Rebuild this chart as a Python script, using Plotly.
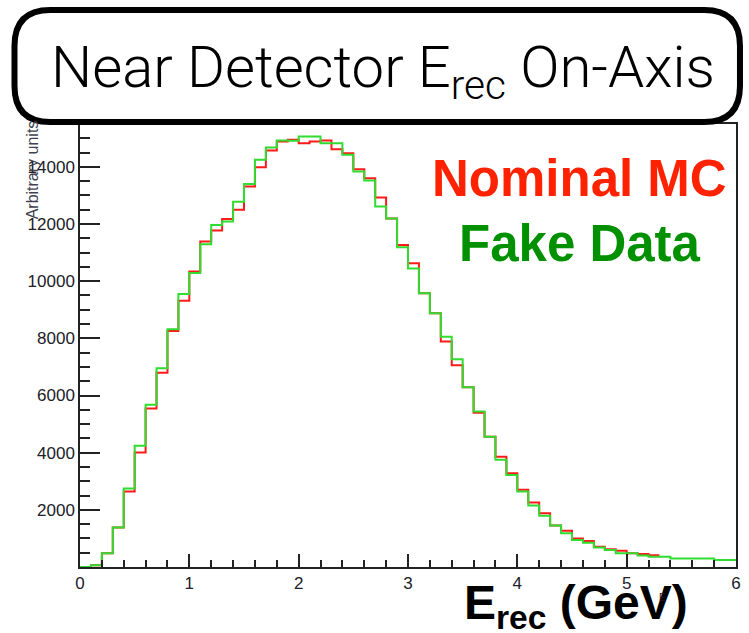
import plotly.graph_objects as go

# Reconstructed-energy histogram, 0.1 GeV bins from 0 to 6 GeV
bin_width = 0.1
n_bins = 60
bin_edges = [round(i * bin_width, 1) for i in range(n_bins + 1)]

# Fake data (green), one value per bin
fake_data = [
    0, 60, 480, 1380, 2750, 4240, 5680, 6950, 8320, 9550,
    10290, 11290, 11970, 12090, 12780, 13400, 14250, 14680, 14920, 14910,
    15060, 15060, 14830, 14830, 14420, 13840, 13520, 12610, 12190, 11190,
    10440, 9580, 8880, 8060, 7270, 6290, 5440, 4560, 3750, 3220,
    2640, 2150, 1790, 1450, 1180, 945, 850, 680, 595, 480,
    480, 400, 360, 360, 300, 300, 300, 300, 245, 245,
]

# Nominal MC (red), drawn up to 5.3 GeV
nominal_mc = [
    0, 60, 480, 1380, 2640, 4010, 5550, 6800, 8260, 9320,
    10340, 11390, 11770, 12180, 12500, 13310, 13990, 14570, 14890, 14950,
    14830, 14890, 14920, 14620, 14480, 13920, 13600, 12930, 12190, 11270,
    10630, 9580, 8880, 7890, 7060, 6290, 5400, 4560, 3860, 3280,
    2700, 2260, 1880, 1450, 1270, 1000, 910, 710, 620, 570,
    480, 455, 410,
]

y_ticks = [2000, 4000, 6000, 8000, 10000, 12000, 14000]
x_ticks = [0, 1, 2, 3, 4, 5, 6]

W, H = 749, 633
L, R, T, B = 80, 8, 124, 66
PW, PH = W - L - R, H - T - B


def px(x):
    return (x - L) / PW


def py(y):
    return (H - B - y) / PH


def step_xy(values):
    xs = bin_edges[: len(values) + 1]
    ys = list(values) + [values[-1]]
    return xs, ys


fig = go.Figure()
rx, ry = step_xy(nominal_mc)
fig.add_trace(go.Scatter(x=rx, y=ry, mode="lines", line_shape="hv",
                         line=dict(color="#ff1a1a", width=2), hoverinfo="skip"))
gx, gy = step_xy(fake_data)
fig.add_trace(go.Scatter(x=gx, y=gy, mode="lines", line_shape="hv",
                         line=dict(color="#2fdc2f", width=2), hoverinfo="skip"))

tick_font = dict(family="Liberation Sans, Arial, sans-serif", size=17, color="#202028")

fig.update_xaxes(
    range=[0, 6], tickvals=x_ticks, ticktext=[str(v) for v in x_ticks],
    ticks="inside", ticklen=13, tickwidth=1.5, tickcolor="#222",
    minor=dict(dtick=0.2, ticks="inside", ticklen=7, tickwidth=1.5, tickcolor="#222"),
    showline=True, linecolor="#222", linewidth=1.5, mirror=True,
    showgrid=False, zeroline=False, tickfont=tick_font,
)
fig.update_yaxes(
    range=[0, 15500], tickvals=y_ticks, ticktext=[str(v) for v in y_ticks],
    ticks="inside", ticklen=20, tickwidth=1.5, tickcolor="#222",
    minor=dict(dtick=500, ticks="inside", ticklen=10, tickwidth=1.5, tickcolor="#222"),
    showline=True, linecolor="#222", linewidth=1.5, mirror=True,
    showgrid=False, zeroline=False, tickfont=tick_font,
)

# Rounded title box
x0, x1, y0, y1, r = 14, 745, 10, 122, 36
path = (
    f"M {px(x0 + r)},{py(y0)} L {px(x1 - r)},{py(y0)} "
    f"Q {px(x1)},{py(y0)} {px(x1)},{py(y0 + r)} "
    f"L {px(x1)},{py(y1 - r)} Q {px(x1)},{py(y1)} {px(x1 - r)},{py(y1)} "
    f"L {px(x0 + r)},{py(y1)} Q {px(x0)},{py(y1)} {px(x0)},{py(y1 - r)} "
    f"L {px(x0)},{py(y0 + r)} Q {px(x0)},{py(y0)} {px(x0 + r)},{py(y0)} Z"
)
fig.add_shape(type="path", path=path, xref="paper", yref="paper",
              line=dict(color="black", width=6), fillcolor="white", layer="above")

annotations = [
    dict(text="Near Detector E<sub>rec</sub> On-Axis", x=px(385), y=py(71),
         font=dict(family="Roboto, Liberation Sans, sans-serif", size=58, color="black", weight=300)),
    dict(text="<b>Nominal MC</b>", x=px(583), y=py(178),
         font=dict(family="Liberation Sans, Arial, sans-serif", size=51, color="#ff2200")),
    dict(text="<b>Fake Data</b>", x=px(584), y=py(243),
         font=dict(family="Liberation Sans, Arial, sans-serif", size=51, color="#009000")),
    dict(text="<b>E<sub>rec</sub> (GeV)</b>", x=px(580), y=py(606),
         font=dict(family="Liberation Sans Narrow, Liberation Sans, Arial, sans-serif", size=48, color="black")),
    dict(text="E", x=px(667), y=py(597),
         font=dict(family="Liberation Sans, Arial, sans-serif", size=10, color="#301030")),
    dict(text="Arbitrary units", x=px(32), y=py(170), textangle=-90,
         font=dict(family="Liberation Sans, Arial, sans-serif", size=16, color="#404050")),
]
for a in annotations:
    a.update(xref="paper", yref="paper", xanchor="center", yanchor="middle", showarrow=False)
fig.update_layout(annotations=annotations)

fig.update_layout(
    width=W, height=H, margin=dict(l=L, r=R, t=T, b=B),
    paper_bgcolor="white", plot_bgcolor="white", showlegend=False,
)

fig.write_html("out.html")
